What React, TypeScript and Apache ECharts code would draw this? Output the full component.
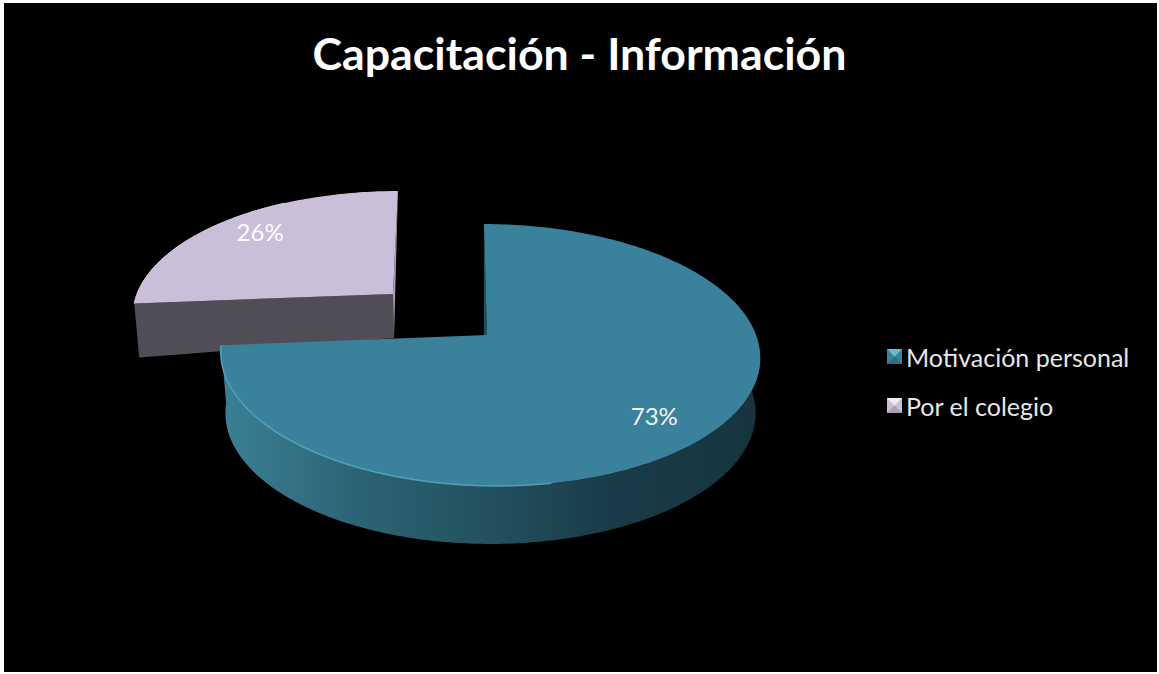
import React, { useEffect, useRef } from "react";
import * as echarts from "echarts";

const titleText = "Capacitación - Información";
const categories = ["Motivación personal", "Por el colegio"];
const values = [73, 26];
const total = values[0] + values[1];

type Geo = { ax: number; ay: number; X: number; Y: number; k: number; shear: number };
const mainApex = [487, 335];
const mainTop: Geo = { ax: 489.5, ay: 335, X: 266.5, Y: 127.9, k: 0.1527, shear: 0.05 };
const mainBottom: Geo = { ax: 490.5, ay: 393, X: 262, Y: 127.9, k: 0.1527, shear: 0.0 };
const sideTop: Geo = { ax: 393, ay: 294, X: 256, Y: 118.7, k: 0.1527, shear: -0.048 };
const sideBottom: Geo = { ax: 394, ay: 338, X: 256, Y: 118.7, k: 0.1527, shear: -0.05 };

const project = (g: Geo, deg: number, r = 1): number[] => {
  const a = (deg * Math.PI) / 180;
  const u = Math.sin(a) * r;
  const v = -Math.cos(a) * r;
  const w = 1 - g.k * v;
  const dy = (g.Y * v) / w;
  return [g.ax + (g.X * u) / w + g.shear * dy, g.ay + dy];
};
const arc = (g: Geo, from: number, to: number): number[][] => {
  const n = Math.max(2, Math.ceil(Math.abs(to - from)));
  const pts: number[][] = [];
  for (let i = 0; i <= n; i++) pts.push(project(g, from + ((to - from) * i) / n));
  return pts;
};
const labelFont = '24px Lato, "Noto Sans", sans-serif';

const renderMain = (_p: any, api: any) => {
  const end = (api.value(0) / total) * 360;
  const mid = end / 2;
  const apex = mainApex;
  const start = project(mainTop, 0);
  const lp = project(mainTop, mid, 0.78);
  return {
    type: "group",
    children: [
      {
        type: "polygon",
        shape: { points: [start, apex, [apex[0] - 3, apex[1]]] },
        style: { fill: "#1f4f5e" },
      },
      {
        type: "polygon",
        shape: { points: [...arc(mainTop, 78, end), ...arc(mainBottom, end, 78)] },
        style: {
          fill: {
            type: "linear", x: 0, y: 0, x2: 1, y2: 0,
            colorStops: [
              { offset: 0, color: "#3b8096" },
              { offset: 0.25, color: "#2c6474" },
              { offset: 0.5, color: "#22505e" },
              { offset: 0.72, color: "#193c48" },
              { offset: 1, color: "#17343e" },
            ],
          },
        },
      },
      {
        type: "polygon",
        shape: { points: [apex, ...arc(mainTop, 0, end)] },
        style: { fill: "#3a829b" },
      },
      {
        type: "polyline",
        shape: { points: arc(mainTop, 170, end) },
        style: { fill: "none", stroke: "#52a8c0", lineWidth: 1.5, opacity: 0.9 },
      },
      {
        type: "text",
        x: lp[0] - 5,
        y: lp[1] + 7,
        style: {
          text: `${api.value(0)}%`, fill: "#f2f2f2", font: labelFont,
          align: "center", verticalAlign: "middle",
        },
      },
    ],
  };
};

const renderSide = (_p: any, api: any) => {
  const begin = 360 - (api.value(0) / total) * 360;
  const mid = (begin + 360) / 2;
  const apex = [sideTop.ax, sideTop.ay];
  const apexB = [sideBottom.ax, sideBottom.ay];
  const left = project(sideTop, begin);
  const start = project(sideTop, 360);
  const lp = project(sideTop, mid, 0.78);
  return {
    type: "group",
    children: [
      {
        type: "polygon",
        shape: { points: [left, apex, apexB, [left[0] + 5, left[1] + 54]] },
        style: { fill: "#504d57" },
      },
      {
        type: "polygon",
        shape: { points: [start, apex, apexB] },
        style: { fill: "#a89fb3" },
      },
      {
        type: "polygon",
        shape: { points: [apex, ...arc(sideTop, begin, 360)] },
        style: { fill: "#c9bfd8" },
      },
      {
        type: "polyline",
        shape: { points: arc(sideTop, begin, 330) },
        style: { fill: "none", stroke: "#ddd5e8", lineWidth: 1 },
      },
      {
        type: "text",
        x: lp[0],
        y: lp[1] - 4,
        style: {
          text: `${api.value(0)}%`, fill: "#ffffff", font: labelFont,
          align: "center", verticalAlign: "middle",
        },
      },
    ],
  };
};

const bevel = (x: number, y: number, size: number, light: string, dark: string) => [
  {
    type: "polygon", silent: true, z: 10,
    shape: { points: [[x, y], [x + size, y], [x + size / 2, y + size / 2]] },
    style: { fill: light },
  },
  {
    type: "polygon", silent: true, z: 10,
    shape: { points: [[x, y + size], [x + size, y + size], [x + size / 2, y + size / 2]] },
    style: { fill: dark },
  },
];

export default function App() {
  const ref = useRef<HTMLDivElement>(null);
  useEffect(() => {
    document.documentElement.style.margin = "0";
    document.body.style.margin = "0";
    document.body.style.background = "#ffffff";
    document.body.style.overflow = "hidden";
    const chart = echarts.init(ref.current!, undefined, { renderer: "svg" });
    chart.setOption({
      animation: false,
      title: {
        text: titleText,
        left: "center",
        top: 30,
        textStyle: { color: "#ffffff", fontFamily: 'Lato, "Noto Sans", sans-serif', fontWeight: 700, fontSize: 44.7 },
        padding: 0,
      },
      legend: {
        orient: "vertical",
        left: 887,
        top: 341.5,
        data: categories,
        icon: "rect",
        itemWidth: 15,
        itemHeight: 15,
        itemGap: 19,
        padding: 0,
        selectedMode: false,
        textStyle: {
          color: "#e6e6e6", fontFamily: 'Lato, "Noto Sans", sans-serif', fontSize: 25,
          padding: [0, 0, 2, -1], lineHeight: 28,
        },
      },
      graphic: [
        { type: "rect", silent: true, z: -1, shape: { x: 4, y: 3, width: 1153, height: 669 }, style: { fill: "#000000" } },
        ...bevel(887, 349, 15, "#68bcd2", "#2f6d80"),
        ...bevel(887, 398, 15, "#f0ebf6", "#a9a0b6"),
      ],
      series: [
        {
          type: "custom", name: categories[1], coordinateSystem: "none", z: 2,
          itemStyle: { color: "#c9bfd8" }, silent: true,
          data: [{ name: categories[1], value: [values[1]] }],
          renderItem: renderSide,
        },
        {
          type: "custom", name: categories[0], coordinateSystem: "none", z: 3,
          itemStyle: { color: "#3a829b" }, silent: true,
          data: [{ name: categories[0], value: [values[0]] }],
          renderItem: renderMain,
        },
      ],
    });
    return () => chart.dispose();
  }, []);
  return <div ref={ref} style={{ width: 1159, height: 674 }} />;
}
